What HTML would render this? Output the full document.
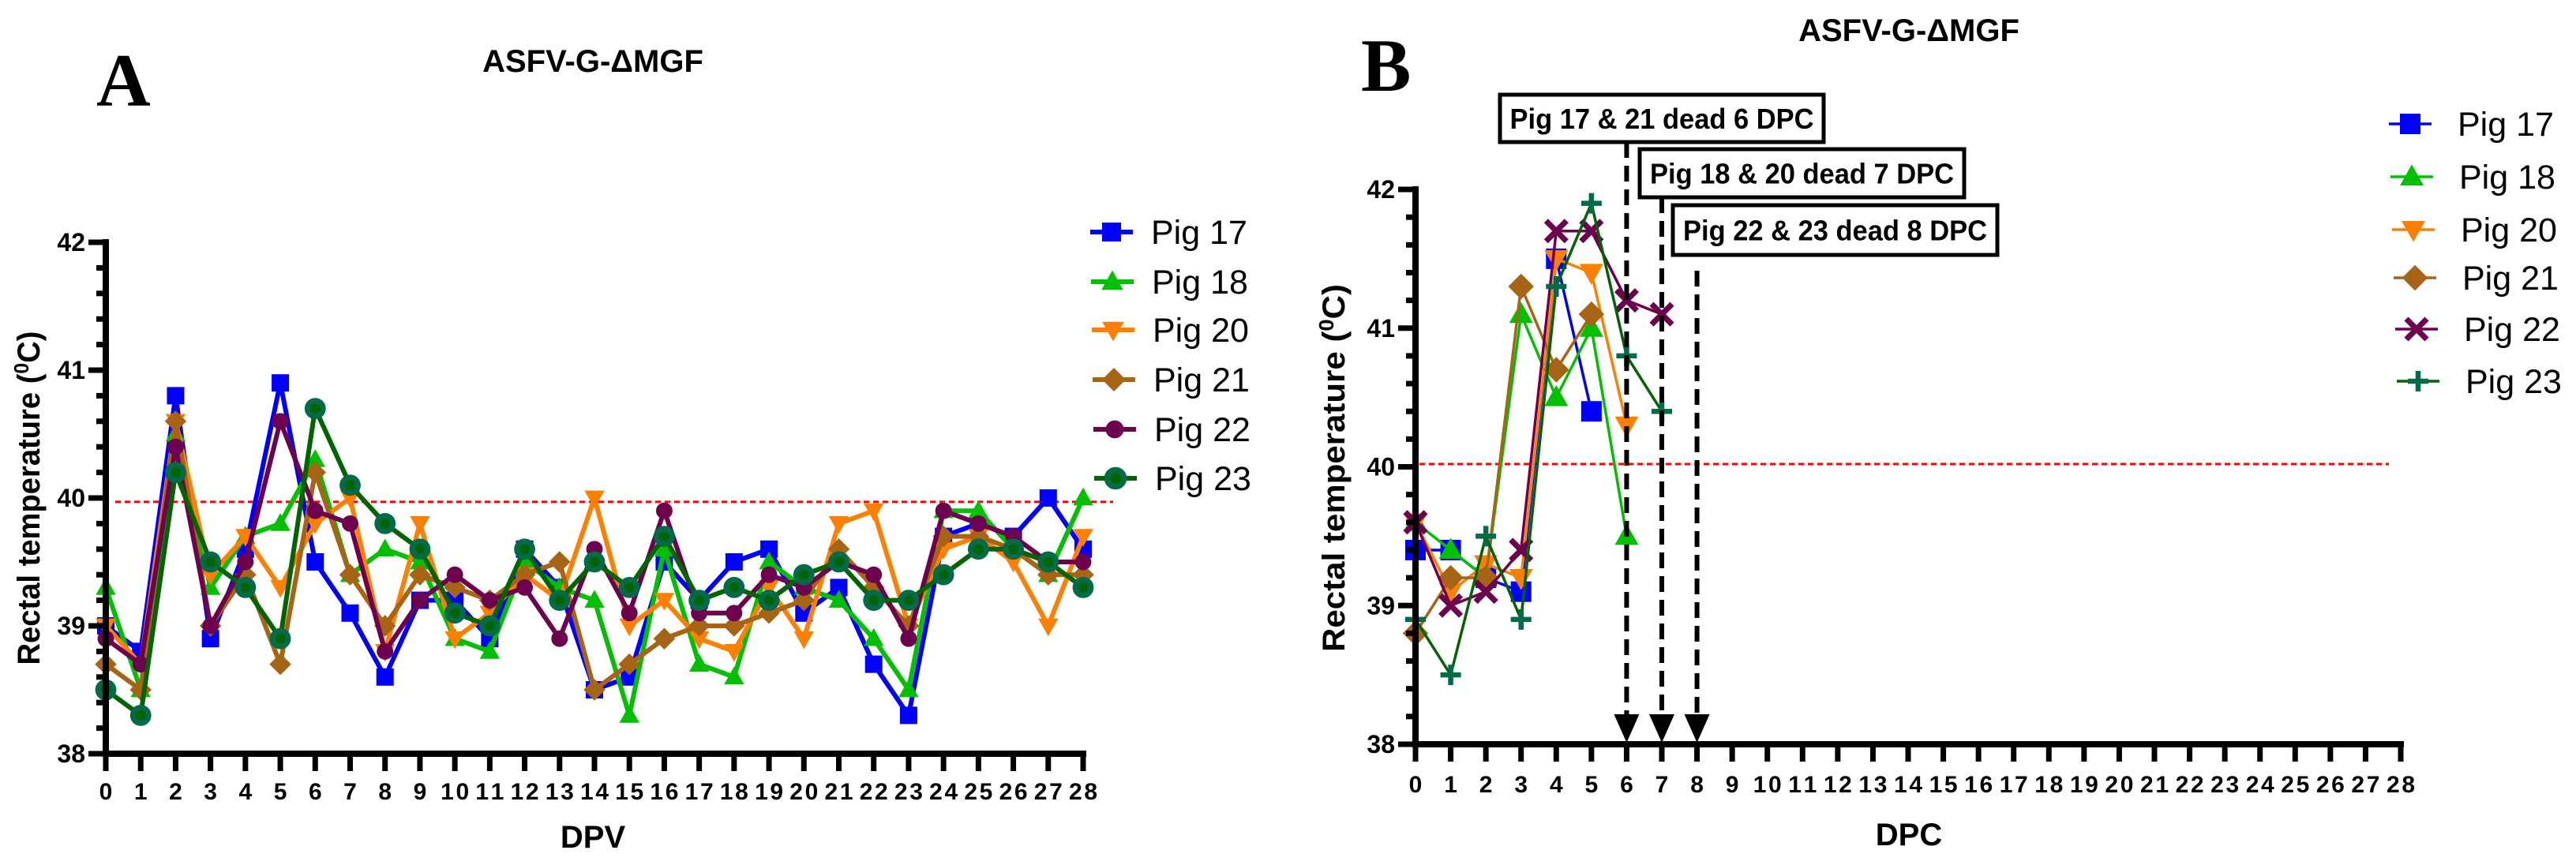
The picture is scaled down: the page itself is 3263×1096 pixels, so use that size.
<!DOCTYPE html>
<html><head><meta charset="utf-8"><style>
html,body{margin:0;padding:0;background:#fff;}
svg{display:block;font-family:"Liberation Sans",Arial,sans-serif;}
</style></head><body>
<svg id="chart" width="3263" height="1096" viewBox="0 0 3263 1096" xmlns="http://www.w3.org/2000/svg">
<g id="panelA"></g>
<g id="panelB"></g>
</svg>
<script>
const pigNames = ["Pig 17","Pig 18","Pig 20","Pig 21","Pig 22","Pig 23"];
const xTicks = [0,1,2,3,4,5,6,7,8,9,10,11,12,13,14,15,16,17,18,19,20,21,22,23,24,25,26,27,28];
const yTicks = [38,39,40,41,42];
const threshold = 39.97;
const thresholdB = 40.02;
// Panel A (DPV)
const a17 = [39.0,38.8,40.8,38.9,39.6,40.9,39.5,39.1,38.6,39.2,39.2,38.9,39.6,39.3,38.5,38.6,39.5,39.2,39.5,39.6,39.1,39.3,38.7,38.3,39.7,39.8,39.7,40.0,39.6];
const a18 = [39.3,38.5,40.5,39.3,39.7,39.8,40.3,39.4,39.6,39.5,38.9,38.8,39.5,39.3,39.2,38.3,39.6,38.7,38.6,39.5,39.3,39.2,38.9,38.5,39.9,39.9,39.6,39.4,40.0];
const a20 = [39.0,38.7,40.6,39.4,39.7,39.3,39.8,40.0,38.8,39.8,38.9,39.1,39.4,39.2,40.0,39.0,39.2,38.9,38.8,39.3,38.9,39.8,39.9,39.0,39.6,39.7,39.5,39.0,39.7];
const a21 = [38.7,38.5,40.6,39.0,39.4,38.7,40.2,39.4,39.0,39.4,39.3,39.2,39.4,39.5,38.5,38.7,38.9,39.0,39.0,39.1,39.2,39.6,39.3,39.0,39.7,39.7,39.6,39.4,39.4];
const a22 = [38.9,38.7,40.4,39.0,39.5,40.6,39.9,39.8,38.8,39.2,39.4,39.2,39.3,38.9,39.6,39.1,39.9,39.1,39.1,39.4,39.3,39.5,39.4,38.9,39.9,39.8,39.7,39.5,39.5];
const a23 = [38.5,38.3,40.2,39.5,39.3,38.9,40.7,40.1,39.8,39.6,39.1,39.0,39.6,39.2,39.5,39.3,39.7,39.2,39.3,39.2,39.4,39.5,39.2,39.2,39.4,39.6,39.6,39.5,39.3];
// Panel B (DPC)
const b17 = [39.4,39.4,39.2,39.1,41.5,40.4];
const b18 = [39.6,39.4,39.2,41.1,40.5,41.0,39.5];
const b20 = [39.6,39.1,39.3,39.2,41.5,41.4,40.3];
const b21 = [38.8,39.2,39.2,41.3,40.7,41.1];
const b22 = [39.6,39.0,39.1,39.4,41.7,41.7,41.2,41.1];
const b23 = [38.9,38.5,39.5,38.9,41.3,41.9,40.8,40.4];
const deathDays = [6,7,8];
const deathLabels = ["Pig 17 & 21 dead 6 DPC","Pig 18 & 20 dead 7 DPC","Pig 22 & 23 dead 8 DPC"];

const NS="http://www.w3.org/2000/svg";
const colors=["#0000ff","#00c000","#ff8000","#a66414","#6e0050","#006400"];
const markerFill=["#0000ff","#00c000","#ff8000","#a66414","#6e0050","#006b48"];
function mk(tag,attrs,parent){const e=document.createElementNS(NS,tag);for(const k in attrs)e.setAttribute(k,attrs[k]);parent.appendChild(e);return e;}

function marker(g,type,cx,cy,s,i,big){
  let e;
  const c=markerFill[i];
  if(type==="sq"){e=mk("rect",{x:cx-s,y:cy-s,width:2*s,height:2*s,fill:c},g);}
  else if(type==="tri"){e=mk("polygon",{points:`${cx},${cy-s*1.2} ${cx+s*1.15},${cy+s*0.85} ${cx-s*1.15},${cy+s*0.85}`,fill:c},g);}
  else if(type==="itri"){e=mk("polygon",{points:`${cx},${cy+s*1.2} ${cx+s*1.15},${cy-s*0.85} ${cx-s*1.15},${cy-s*0.85}`,fill:c},g);}
  else if(type==="dia"){e=mk("polygon",{points:`${cx},${cy-s*1.25} ${cx+s*1.25},${cy} ${cx},${cy+s*1.25} ${cx-s*1.25},${cy}`,fill:c},g);}
  else if(type==="circ"){e=mk("circle",{cx:cx,cy:cy,r:s*0.95,fill:c},g);}
  else if(type==="ring"){e=mk("circle",{cx:cx,cy:cy,r:s*0.9,fill:"#006400",stroke:"#006b48","stroke-width":big?7:5},g);}
  else if(type==="x"){e=mk("path",{d:`M${cx-s},${cy-s}L${cx+s},${cy+s}M${cx+s},${cy-s}L${cx-s},${cy+s}`,stroke:c,"stroke-width":s*0.55,fill:"none"},g);}
  else if(type==="plus"){e=mk("path",{d:`M${cx-s},${cy}L${cx+s},${cy}M${cx},${cy-s}L${cx},${cy+s}`,stroke:c,"stroke-width":s*0.5,fill:"none"},g);}
  
  
  return e;
}

function panel(cfg){
  const g=cfg.g;
  const sx=v=>cfg.x0+(v-0)*(cfg.x1-cfg.x0)/28;
  const sy=v=>cfg.y38+(v-38)*(cfg.y42-cfg.y38)/4;
  // threshold line
  const th=mk("line",{x1:cfg.thX1,x2:cfg.thX2,y1:sy(cfg.th),y2:sy(cfg.th),stroke:"#ff0000","stroke-width":3,"stroke-dasharray":"7,5"},g);
  
  
  // series
  cfg.series.forEach((arr,i)=>{
    const sg=mk("g",{},g);
    
    
    const pts=arr.map((v,k)=>`${sx(k)},${sy(v)}`).join(" ");
    const pl=mk("polyline",{points:pts,fill:"none",stroke:colors[i],"stroke-width":cfg.lw,"stroke-linejoin":"round"},sg);
    
    
    arr.forEach((v,k)=>marker(sg,cfg.markers[i],sx(k),sy(v),cfg.ms,i,cfg.big));
  });
  // axes
  const ax=mk("g",{},g);
  
  
  mk("line",{x1:sx(0),x2:sx(0),y1:sy(42)-4,y2:sy(38)+4,stroke:"#000","stroke-width":8},ax);
  mk("line",{x1:sx(0)-4,x2:sx(28)+4,y1:sy(38),y2:sy(38),stroke:"#000","stroke-width":8},ax);
  for(let v=38;v<=42.001;v+=0.2){
    const major=Math.abs(v-Math.round(v))<0.01;
    mk("line",{x1:sx(0)-(major?22:12),x2:sx(0),y1:sy(v),y2:sy(v),stroke:"#000","stroke-width":7},ax);
  }
  yTicks.forEach(v=>{
    const t=mk("text",{x:sx(0)-26,y:sy(v)+11,"text-anchor":"end","font-size":32,"font-weight":"bold"},ax);
    t.textContent=v;
    
    
  });
  xTicks.forEach(v=>{
    mk("line",{x1:sx(v),x2:sx(v),y1:sy(38),y2:sy(38)+22,stroke:"#000","stroke-width":7},ax);
    const t=mk("text",{x:sx(v),y:cfg.tickY,"text-anchor":"middle","font-size":30,"font-weight":"bold"},ax);
    if(v>=10)t.setAttribute("textLength",36);
    t.textContent=v;
    
    
  });
  // legend
  const lg=mk("g",{},g);
  
  
  pigNames.forEach((n,i)=>{
    const y=cfg.legY[i], x=cfg.legX+i*cfg.legDx;
    const eg=mk("g",{},lg);
    
    
    mk("line",{x1:x-27,x2:x+27,y1:y,y2:y,stroke:colors[i],"stroke-width":cfg.lw},eg);
    marker(eg,cfg.markers[i],x,y,cfg.legMs,i,cfg.big);
    const t=mk("text",{x:x+cfg.legTx,y:y+15,"font-size":43},eg);
    t.textContent=n;
  });
  return {sx,sy};
}

const A=panel({g:document.getElementById("panelA"),x0:134,x1:1372,y38:955,y42:307,th:threshold,thX1:146,thX2:1410,
  series:[a17,a18,a20,a21,a22,a23],markers:["sq","tri","itri","dia","circ","ring"],lw:6,ms:11,big:true,tickY:1013,
  legX:1408,legDx:1,legY:[294,357,418,481,544,606],legMs:12,legTx:50});
const B=panel({g:document.getElementById("panelB"),x0:1793,x1:3041,y38:943,y42:240,th:thresholdB,thX1:1798,thX2:3026,
  series:[b17,b18,b20,b21,b22,b23],markers:["sq","tri","itri","dia","x","plus"],lw:3.5,ms:13,big:false,tickY:1004,
  legX:3053,legDx:2,legY:[157,224,291,352,417,483],legMs:13,legTx:60});

// death annotations
const boxes=[[1900,120,410,60],[2077,189,411,61],[2119,260,411,63]];
const pb=document.getElementById("panelB");
deathDays.forEach((d,i)=>{
  const x=B.sx(d);
  const ag=mk("g",{},pb);
  
  
  const yTop=boxes[i][1]+boxes[i][3]+(i===2?20:0);
  mk("line",{x1:x,x2:x,y1:yTop,y2:B.sy(38)-36,stroke:"#000","stroke-width":6,"stroke-dasharray":"20,10"},ag);
  mk("polygon",{points:`${x-16},${B.sy(38)-38} ${x+16},${B.sy(38)-38} ${x},${B.sy(38)-2}`,fill:"#000"},ag);
  const bg=mk("g",{},pb);
  
  
  const b=boxes[i];
  mk("rect",{x:b[0],y:b[1],width:b[2],height:b[3],fill:"#fff",stroke:"#000","stroke-width":5},bg);
  const t=mk("text",{x:b[0]+b[2]/2,y:b[1]+b[3]/2+13,"text-anchor":"middle","font-size":36,"font-weight":"bold",textLength:385,lengthAdjust:"spacingAndGlyphs"},bg);
  t.textContent=deathLabels[i];
});
</script>
<svg style="position:absolute;left:0;top:0" width="3263" height="1096" xmlns="http://www.w3.org/2000/svg" font-family="Liberation Sans, Arial, sans-serif">
<text x="122" y="134" font-family="Liberation Serif, serif" font-weight="bold" font-size="95">A</text>
<text x="751" y="91" text-anchor="middle" font-weight="bold" font-size="40">ASFV-G-ΔMGF</text>
<text transform="translate(50,631) rotate(-90)" text-anchor="middle" font-weight="bold" font-size="40" textLength="423" lengthAdjust="spacingAndGlyphs">Rectal temperature (<tspan font-size="26" dy="-14">0</tspan><tspan dy="14">C)</tspan></text>
<text x="751" y="1074" text-anchor="middle" font-weight="bold" font-size="40">DPV</text>
<text x="1724" y="115" font-family="Liberation Serif, serif" font-weight="bold" font-size="95">B</text>
<text x="2418" y="52" text-anchor="middle" font-weight="bold" font-size="40">ASFV-G-ΔMGF</text>
<text transform="translate(1703,593) rotate(-90)" text-anchor="middle" font-weight="bold" font-size="40" textLength="466" lengthAdjust="spacingAndGlyphs">Rectal temperature (<tspan font-size="26" dy="-14">0</tspan><tspan dy="14">C)</tspan></text>
<text x="2418" y="1071" text-anchor="middle" font-weight="bold" font-size="40">DPC</text>
</svg>
</body></html>
